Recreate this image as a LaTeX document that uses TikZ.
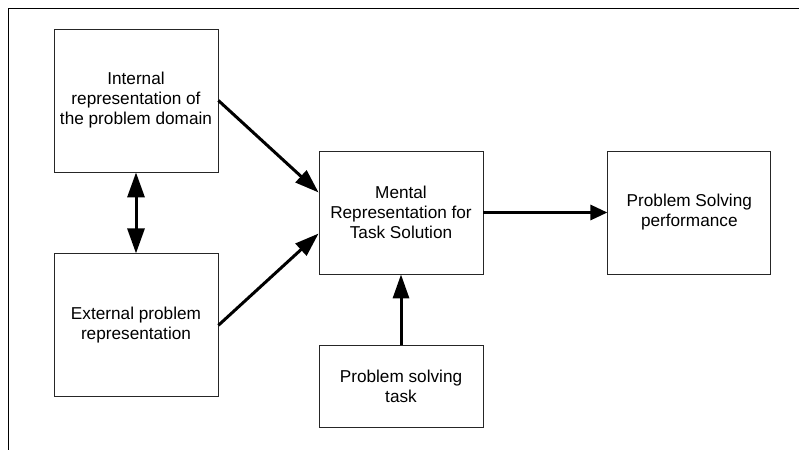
\documentclass[tikz,border=0pt]{standalone}
\usepackage{fontspec}
\setmainfont{Liberation Sans}
\usetikzlibrary{arrows.meta,positioning}

\begin{document}
\begin{tikzpicture}[
  x=1pt,y=-1pt,
  box/.style={draw=black!85,line width=0.8pt,align=center,inner sep=0pt,
              font=\fontsize{17.2}{20}\selectfont,minimum width=164pt},
  tall/.style={box,minimum height=143pt},
  mid/.style={box,minimum height=123pt},
  ar/.style={-{Triangle[length=24pt,width=16pt]},line width=3pt},
  sar/.style={-{Triangle[length=17pt,width=15pt]},line width=3pt},
  dar/.style={{Triangle[length=25pt,width=17pt]}-{Triangle[length=25pt,width=17pt]},
              line width=3pt}
]
\useasboundingbox (0,0) rectangle (799,450);
\draw[line width=0.8pt] (799,8) -- (8,8) -- (8,450);
\node[tall] (int) at (136,100.5) {Internal\\representation of\\the problem domain};
\node[tall,below=81pt of int] (ext) {External problem\\representation};
\node[mid] (ment) at (401,212.5) {Mental\\Representation for\\Task Solution};
\node[mid,right=124pt of ment,minimum width=163pt] (perf) {Problem Solving\\performance};
\node[box,minimum height=82pt,below=71pt of ment] (task) {Problem solving\\task};
\draw[ar] (int.east) -- ([yshift=20pt]ment.west);
\draw[ar] (ext.east) -- ([yshift=-21pt]ment.west);
\draw[dar] (int) -- (ext);
\draw[sar] (ment) -- (perf);
\draw[ar] (task) -- (ment);
\end{tikzpicture}
\end{document}
